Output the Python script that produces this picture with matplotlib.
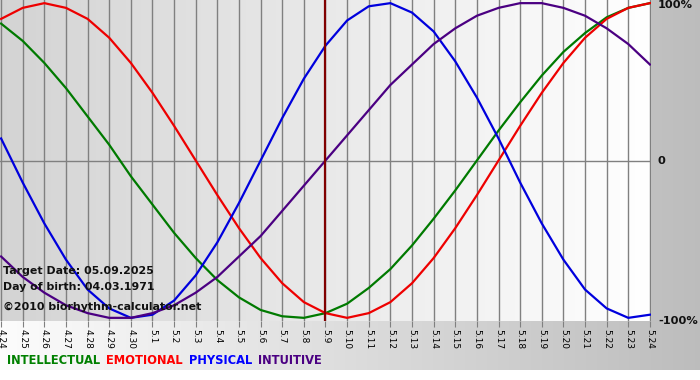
import matplotlib
matplotlib.use("Agg")
import matplotlib.pyplot as plt
import numpy as np

# day labels (month.day), 4.24 .. 5.24
days = ["4.24", "4.25", "4.26", "4.27", "4.28", "4.29", "4.30",
        "5.1", "5.2", "5.3", "5.4", "5.5", "5.6", "5.7", "5.8", "5.9",
        "5.10", "5.11", "5.12", "5.13", "5.14", "5.15", "5.16", "5.17",
        "5.18", "5.19", "5.20", "5.21", "5.22", "5.23", "5.24"]
target_idx = 15

physical = [0.14, -0.14, -0.40, -0.63, -0.82, -0.94, -1.00, -0.98, -0.89, -0.73,
            -0.52, -0.27, 0.00, 0.27, 0.52, 0.73, 0.89, 0.98, 1.00, 0.94,
            0.82, 0.63, 0.40, 0.14, -0.14, -0.40, -0.63, -0.82, -0.94, -1.00, -0.98]
emotional = [0.90, 0.97, 1.00, 0.97, 0.90, 0.78, 0.62, 0.43, 0.22, 0.00,
             -0.22, -0.43, -0.62, -0.78, -0.90, -0.97, -1.00, -0.97, -0.90, -0.78,
             -0.62, -0.43, -0.22, 0.00, 0.22, 0.43, 0.62, 0.78, 0.90, 0.97, 1.00]
intellectual = [0.87, 0.76, 0.62, 0.46, 0.28, 0.10, -0.10, -0.28, -0.46, -0.62,
                -0.76, -0.87, -0.95, -0.99, -1.00, -0.97, -0.91, -0.81, -0.69, -0.54,
                -0.37, -0.19, 0.00, 0.19, 0.37, 0.54, 0.69, 0.81, 0.91, 0.97, 1.00]
intuitive = [-0.61, -0.74, -0.84, -0.92, -0.97, -1.00, -1.00, -0.97, -0.92, -0.84,
             -0.74, -0.61, -0.48, -0.32, -0.16, 0.00, 0.16, 0.32, 0.48, 0.61,
             0.74, 0.84, 0.92, 0.97, 1.00, 1.00, 0.97, 0.92, 0.84, 0.74, 0.61]

names = ["INTELLECTUAL", "EMOTIONAL", "PHYSICAL", "INTUITIVE"]
colors = ["#007a00", "#ee0000", "#0000dd", "#4b0082"]
legend_colors = ["#008000", "#ff0000", "#0000ff", "#4b0082"]

W, H = 700, 380
fig = plt.figure(figsize=(W / 100, H / 100), dpi=100)

# figure background: horizontal white -> gray gradient, white strip at bottom
bg = fig.add_axes([0, 0, 1, 1], zorder=-5)
grad = np.linspace(0.99, 0.74, 256)
img = np.tile(grad, (H, 1))
img[370:, :] = 1.0
bg.imshow(np.dstack([img] * 3), aspect="auto", extent=[0, W, H, 0])
bg.set_axis_off()

ax = fig.add_axes([0, (H - 321) / H, 651 / W, 321 / H])
x = np.arange(len(days))
ax.set_xlim(-0.05, len(days) - 1 + 0.05)
ax.set_ylim(-1.02, 1.02)

# plot area gradient
pg = np.tile(np.linspace(0.83, 1.0, 256), (2, 1))
ax.imshow(np.dstack([pg] * 3), aspect="auto",
          extent=[-0.05, len(days) - 1 + 0.05, -1.02, 1.02], zorder=0)

for xi in x:
    ax.axvline(xi, color="#808080", lw=1, zorder=1)
ax.axhline(0, color="#808080", lw=1, zorder=1)
ax.axvline(target_idx, color="#800000", lw=1.6, zorder=3)

for vals, c in zip([intellectual, emotional, physical, intuitive], colors):
    ax.plot(x, vals, color=c, lw=1.6, zorder=2, solid_joinstyle="round")

for s in ax.spines.values():
    s.set_visible(False)

ax.set_xticks(x)
ax.set_xticklabels(days, rotation=270, fontsize=6.5)
ax.tick_params(axis="x", length=4, color="#808080", pad=1.5)
ax.set_yticks([])

info = ["Target Date: 05.09.2025", "Day of birth: 04.03.1971",
        "\u00a92010 biorhythm-calculator.net"]
for txt, yy in zip(info, [271, 287, 307]):
    fig.text(3 / W, 1 - yy / H, txt, fontsize=7.9, fontweight="bold",
             color="#111111", va="center", ha="left")

for txt, yy in zip(["100%", "0", "-100%"], [5, 161, 321]):
    fig.text(658 / W, 1 - yy / H, txt, fontsize=8.2, fontweight="bold",
             color="#111111", va="center", ha="left")

xpos = 7
r = fig.canvas.get_renderer()
for name, c in zip(names, legend_colors):
    t = fig.text(xpos / W, 1 - 361 / H, name, fontsize=8.3, fontweight="bold",
                 color=c, va="center", ha="left")
    bb = t.get_window_extent(renderer=r)
    xpos += bb.width + 6

fig.savefig("out.png", dpi=100)
